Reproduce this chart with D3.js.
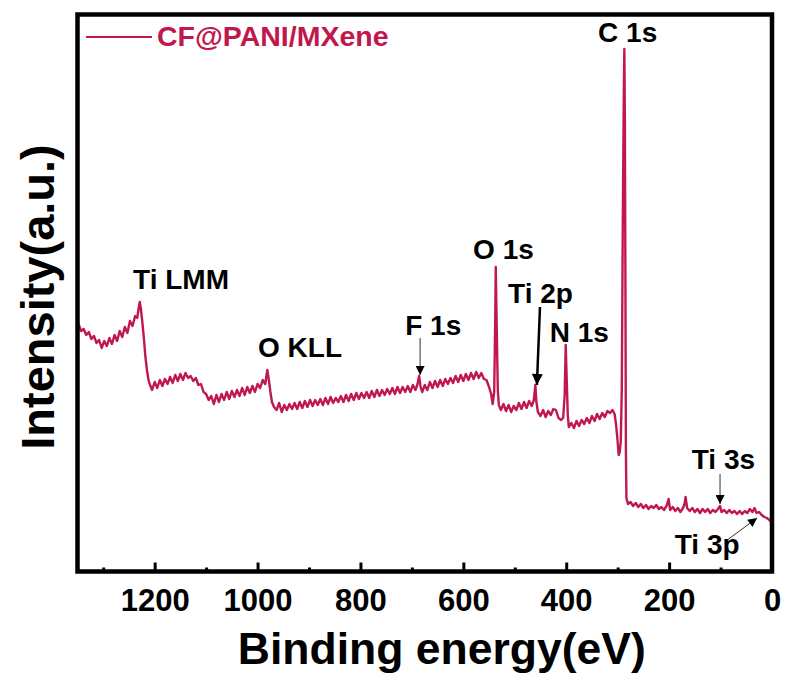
<!DOCTYPE html>
<html>
<head>
<meta charset="utf-8">
<script src="https://cdn.jsdelivr.net/npm/d3@7"></script>
<style>
  html, body { margin: 0; padding: 0; background: #fff; }
  svg { display: block; font-family: Arial, "Liberation Sans", sans-serif; }
</style>
</head>
<body>
<div id="chart"></div>
<script>
// XPS survey spectrum: [binding energy (eV), intensity (a.u.)]
const spectrum = [
  [1350, 242], [1348, 246], [1343, 239], [1338, 241], [1333, 235], [1328, 238], [1323, 231],
  [1318, 234], [1313, 227], [1308, 230], [1303, 222], [1298, 229], [1293, 224], [1288, 232],
  [1283, 226], [1278, 235], [1273, 229], [1268, 239], [1263, 233], [1258, 243], [1253, 237],
  [1248, 249], [1243, 244], [1238, 254], [1234, 252], [1231, 262], [1229, 268], [1227, 262],
  [1224, 248], [1221, 232], [1218, 213], [1215, 200], [1212, 190], [1209, 185], [1205, 180],
  [1200, 188], [1195, 182], [1190, 190], [1185, 184], [1180, 191], [1175, 186], [1170, 193],
  [1165, 187], [1160, 195], [1155, 189], [1150, 196], [1145, 190], [1140, 197], [1135, 192],
  [1130, 194], [1125, 189], [1120, 192], [1115, 185], [1110, 186], [1105, 178], [1100, 176],
  [1095, 170], [1090, 174], [1085, 166], [1080, 175], [1075, 168], [1070, 176], [1065, 170],
  [1060, 178], [1055, 171], [1050, 179], [1045, 173], [1040, 180], [1035, 174], [1030, 182],
  [1025, 175], [1020, 183], [1015, 177], [1010, 184], [1005, 178], [1000, 186], [995, 182],
  [990, 190], [985, 186], [981, 200], [978, 190], [975, 178], [972, 168], [968, 163],
  [963, 160], [958, 167], [953, 158], [948, 165], [943, 160], [938, 166], [933, 161],
  [928, 167], [923, 161], [918, 168], [913, 162], [908, 169], [903, 163], [898, 170],
  [893, 164], [888, 170], [883, 165], [878, 171], [873, 165], [868, 172], [863, 166],
  [858, 173], [853, 167], [848, 172], [843, 168], [838, 174], [833, 168], [828, 175],
  [823, 169], [818, 176], [813, 170], [808, 177], [803, 171], [798, 177], [793, 172],
  [788, 178], [783, 172], [778, 179], [773, 173], [768, 180], [763, 174], [758, 180],
  [753, 175], [748, 181], [743, 176], [738, 182], [733, 176], [728, 183], [723, 177],
  [718, 183], [713, 178], [708, 184], [703, 178], [698, 185], [693, 180], [689, 186],
  [686, 194], [683, 183], [680, 178], [675, 185], [670, 180], [665, 188], [660, 182],
  [655, 189], [650, 183], [645, 190], [640, 184], [635, 191], [630, 186], [625, 192],
  [620, 187], [615, 194], [610, 188], [605, 195], [600, 189], [595, 196], [590, 190],
  [585, 197], [580, 191], [575, 198], [570, 192], [565, 197], [560, 191], [555, 190],
  [550, 183], [546, 176], [543, 166], [540, 178], [538, 250], [537, 303], [535, 240],
  [533, 180], [531, 165], [527, 160], [522, 166], [517, 159], [512, 165], [507, 158],
  [502, 164], [497, 160], [492, 167], [487, 161], [482, 168], [477, 162], [472, 169],
  [467, 164], [463, 170], [460, 185], [458, 168], [455, 158], [450, 154], [445, 160],
  [440, 153], [435, 159], [430, 155], [425, 161], [420, 160], [415, 152], [410, 150],
  [406, 152], [403, 175], [401, 225], [399, 190], [397, 155], [395, 143], [390, 147],
  [385, 142], [380, 149], [375, 144], [370, 150], [365, 146], [360, 152], [355, 147],
  [350, 154], [345, 149], [340, 156], [335, 151], [330, 157], [325, 153], [320, 159],
  [315, 157], [310, 160], [306, 156], [303, 145], [300, 128], [298, 115], [296, 118],
  [294, 128], [292, 180], [290, 350], [288, 480], [287, 521], [286, 450], [285, 300],
  [284, 120], [283, 72], [280, 66], [275, 68], [270, 64], [265, 67], [260, 63],
  [255, 66], [250, 62], [245, 65], [240, 61], [235, 64], [230, 62], [225, 65],
  [220, 61], [215, 63], [210, 60], [205, 64], [201, 71], [198, 60], [193, 63],
  [188, 59], [183, 62], [178, 58], [173, 62], [170, 66], [168, 73], [165, 62],
  [160, 59], [155, 62], [150, 58], [145, 61], [140, 57], [135, 61], [130, 58],
  [125, 61], [120, 57], [115, 60], [110, 58], [105, 61], [101, 64], [98, 58],
  [93, 60], [88, 57], [83, 60], [78, 57], [73, 59], [68, 56], [63, 59],
  [58, 56], [53, 59], [48, 57], [43, 61], [38, 58], [34, 62], [30, 57],
  [25, 58], [20, 55], [15, 53], [10, 52], [5, 50], [0, 48]
];

const majorTicks = [1200, 1000, 800, 600, 400, 200, 0];
const minorTicks = [1300, 1100, 900, 700, 500, 300, 100];

// peak labels: [text, binding energy of text start, intensity of baseline]
const peakLabels = [
  ['C 1s', 338, 528],
  ['Ti LMM', 1242, 281],
  ['O KLL', 999, 213],
  ['F 1s', 713, 235],
  ['O 1s', 581, 311],
  ['Ti 2p', 513, 267],
  ['N 1s', 432, 228],
  ['Ti 3s', 156, 101],
  ['Ti 3p', 189, 16]
];

// arrows: [from BE, from I, to BE, to I, style]
const peakArrows = [
  [684, 232, 684, 195, 'thin'],
  [451, 263, 457, 185, 'thick'],
  [101, 96, 101, 66, 'thin'],
  [87, 30, 29, 52, 'thin']
];

const seriesName = 'CF@PANI/MXene';
const lineColor = '#c0184c';

const width = 785, height = 693;
const margin = { top: 14.5, right: 13, bottom: 121.5, left: 77.5 };
const plotW = width - margin.left - margin.right;
const plotH = height - margin.top - margin.bottom;

const svg = d3.select('#chart').append('svg')
  .attr('width', width)
  .attr('height', height);

const defs = svg.append('defs');
['thin', 'thick'].forEach(kind => {
  const m = defs.append('marker')
    .attr('id', 'head-' + kind)
    .attr('viewBox', '0 0 10 10')
    .attr('refX', 10)
    .attr('refY', 5)
    .attr('markerUnits', 'userSpaceOnUse')
    .attr('markerWidth', kind === 'thick' ? 20 : 11)
    .attr('markerHeight', kind === 'thick' ? 11 : 9)
    .attr('orient', 'auto');
  m.append('path').attr('d', 'M0,0 L10,5 L0,10 Z').attr('fill', '#000');
});

const g = svg.append('g')
  .attr('transform', `translate(${margin.left},${margin.top})`);

const x = d3.scaleLinear().domain([1350, 0]).range([0, plotW]);
const y = d3.scaleLinear().domain([-1.5, 555.5]).range([plotH, 0]);

g.append('clipPath').attr('id', 'clip')
  .append('rect').attr('width', plotW).attr('height', plotH);

const line = d3.line()
  .x(d => x(d[0]))
  .y(d => y(d[1]));

g.append('path')
  .datum(spectrum)
  .attr('clip-path', 'url(#clip)')
  .attr('fill', 'none')
  .attr('stroke', lineColor)
  .attr('stroke-width', 2.4)
  .attr('stroke-linejoin', 'round')
  .attr('d', line);

// bottom axis, ticks pointing inward
const xAxis = g.append('g')
  .attr('transform', `translate(0,${plotH})`)
  .call(d3.axisBottom(x).tickValues(majorTicks).tickSize(-9).tickPadding(17).tickFormat(d3.format('d')));
xAxis.select('.domain').remove();
xAxis.selectAll('.tick line').attr('stroke', '#000').attr('stroke-width', 3);
xAxis.selectAll('.tick text')
  .attr('fill', '#000')
  .style('font-size', '31px')
  .style('font-weight', 'bold');

const xMinor = g.append('g')
  .attr('transform', `translate(0,${plotH})`)
  .call(d3.axisBottom(x).tickValues(minorTicks).tickSize(-4).tickFormat(''));
xMinor.select('.domain').remove();
xMinor.selectAll('.tick line').attr('stroke', '#000').attr('stroke-width', 3);

// frame
g.append('rect')
  .attr('width', plotW)
  .attr('height', plotH)
  .attr('fill', 'none')
  .attr('stroke', '#000')
  .attr('stroke-width', 4.5);

// peak labels
g.selectAll('.peak-label')
  .data(peakLabels)
  .enter()
  .append('text')
  .attr('class', 'peak-label')
  .attr('x', d => x(d[1]))
  .attr('y', d => y(d[2]))
  .style('font-size', '28px')
  .style('font-weight', 'bold')
  .attr('fill', '#000')
  .text(d => d[0]);

// arrows
g.selectAll('.peak-arrow')
  .data(peakArrows)
  .enter()
  .append('line')
  .attr('x1', d => x(d[0]))
  .attr('y1', d => y(d[1]))
  .attr('x2', d => x(d[2]))
  .attr('y2', d => y(d[3]))
  .attr('stroke', d => d[4] === 'thick' ? '#000' : '#333')
  .attr('stroke-width', d => d[4] === 'thick' ? 2.5 : 1)
  .attr('marker-end', d => `url(#head-${d[4]})`);

// legend
const legend = svg.append('g').attr('transform', 'translate(86,37)');
legend.append('line')
  .attr('x1', 0).attr('x2', 66)
  .attr('y1', 0).attr('y2', 0)
  .attr('stroke', lineColor)
  .attr('stroke-width', 2);
legend.append('text')
  .attr('x', 71)
  .attr('y', 9)
  .style('font-size', '28.5px')
  .style('font-weight', 'bold')
  .attr('fill', lineColor)
  .text(seriesName);

// axis titles
svg.append('text')
  .attr('x', margin.left + plotW / 2 + 17)
  .attr('y', 664)
  .attr('text-anchor', 'middle')
  .style('font-size', '44.5px')
  .style('font-weight', 'bold')
  .text('Binding energy(eV)');

svg.append('text')
  .attr('transform', `translate(54,${margin.top + plotH / 2 + 4}) rotate(-90)`)
  .attr('text-anchor', 'middle')
  .style('font-size', '47px')
  .style('font-weight', 'bold')
  .text('Intensity(a.u.)');
</script>
</body>
</html>
